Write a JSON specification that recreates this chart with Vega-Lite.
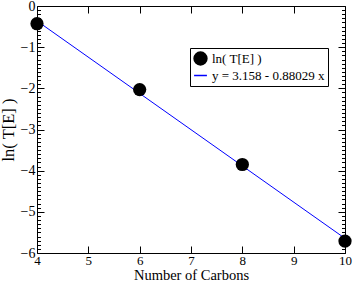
{
  "$schema": "https://vega.github.io/schema/vega-lite/v6.json",
  "width": 308,
  "height": 247,
  "autosize": {"type": "none"},
  "padding": {"left": 37, "top": 6, "right": 9, "bottom": 30},
  "background": "white",
  "config": {
    "view": {"stroke": "black", "strokeWidth": 1},
    "font": "Liberation Serif",
    "axis": {
      "grid": false,
      "domain": false,
      "ticks": true,
      "tickSize": -7,
      "tickColor": "black",
      "tickWidth": 1,
      "tickOpacity": 1,
      "zindex": 1,
      "labelFont": "Liberation Serif",
      "labelFontSize": 14,
      "labelColor": "black",
      "titleFont": "Liberation Serif",
      "titleFontWeight": "normal",
      "titleColor": "black"
    },
    "legend": {
      "title": null,
      "orient": "none",
      "legendX": 153,
      "legendY": 42,
      "fillColor": "white",
      "strokeColor": "black",
      "padding": 3,
      "rowPadding": 0,
      "symbolSize": 165,
      "symbolOpacity": 1,
      "labelFont": "Liberation Serif",
      "labelFontSize": 13,
      "labelColor": "black",
      "labelOffset": 4,
      "labelLimit": 300,
      "zindex": 2
    }
  },
  "datasets": {
    "points": [
      {"carbons": 4, "lnTE": -0.43, "series": "ln( T[E] )"},
      {"carbons": 6, "lnTE": -2.03, "series": "ln( T[E] )"},
      {"carbons": 8, "lnTE": -3.85, "series": "ln( T[E] )"},
      {"carbons": 10, "lnTE": -5.71, "series": "ln( T[E] )"}
    ],
    "fit": [
      {"carbons": 4, "lnTE": -0.36316, "series": "y = 3.158 - 0.88029 x"},
      {"carbons": 10, "lnTE": -5.6449, "series": "y = 3.158 - 0.88029 x"}
    ]
  },
  "resolve": {"axis": {"x": "independent", "y": "independent"}},
  "layer": [
    {
      "data": {"name": "points"},
      "mark": {"type": "point", "opacity": 0},
      "encoding": {
        "x": {"field": "carbons", "type": "quantitative", "scale": {"domain": [4, 10], "nice": false, "zero": false}, "axis": null},
        "y": {
          "field": "lnTE", "type": "quantitative",
          "scale": {"domain": [-6, 0], "nice": false, "zero": false},
          "axis": {
            "orient": "left", "title": null, "labels": false, "tickSize": -3.5,
            "values": [-5.9, -5.8, -5.7, -5.6, -5.5, -5.4, -5.3, -5.2, -5.1, -4.9, -4.8, -4.7, -4.6, -4.5, -4.4, -4.3, -4.2, -4.1, -3.9, -3.8, -3.7, -3.6, -3.5, -3.4, -3.3, -3.2, -3.1, -2.9, -2.8, -2.7, -2.6, -2.5, -2.4, -2.3, -2.2, -2.1, -1.9, -1.8, -1.7, -1.6, -1.5, -1.4, -1.3, -1.2, -1.1, -0.9, -0.8, -0.7, -0.6, -0.5, -0.4, -0.3, -0.2, -0.1]
          }
        }
      }
    },
    {
      "data": {"name": "points"},
      "mark": {"type": "point", "opacity": 0},
      "encoding": {
        "x": {"field": "carbons", "type": "quantitative", "scale": {"domain": [4, 10], "nice": false, "zero": false}, "axis": null},
        "y": {
          "field": "lnTE", "type": "quantitative",
          "scale": {"domain": [-6, 0], "nice": false, "zero": false},
          "axis": {
            "orient": "right", "title": null, "labels": false, "tickSize": -3.5,
            "values": [-5.9, -5.8, -5.7, -5.6, -5.5, -5.4, -5.3, -5.2, -5.1, -4.9, -4.8, -4.7, -4.6, -4.5, -4.4, -4.3, -4.2, -4.1, -3.9, -3.8, -3.7, -3.6, -3.5, -3.4, -3.3, -3.2, -3.1, -2.9, -2.8, -2.7, -2.6, -2.5, -2.4, -2.3, -2.2, -2.1, -1.9, -1.8, -1.7, -1.6, -1.5, -1.4, -1.3, -1.2, -1.1, -0.9, -0.8, -0.7, -0.6, -0.5, -0.4, -0.3, -0.2, -0.1]
          }
        }
      }
    },
    {
      "data": {"name": "fit"},
      "mark": {"type": "line", "color": "#0000ff", "strokeWidth": 1},
      "encoding": {
        "x": {
          "field": "carbons", "type": "quantitative",
          "scale": {"domain": [4, 10], "nice": false, "zero": false},
          "axis": {"orient": "top", "title": null, "labels": false, "values": [4, 5, 6, 7, 8, 9, 10]}
        },
        "y": {
          "field": "lnTE", "type": "quantitative",
          "scale": {"domain": [-6, 0], "nice": false, "zero": false},
          "axis": {"orient": "right", "title": null, "labels": false, "values": [-6, -5, -4, -3, -2, -1, 0]}
        },
        "color": {
          "field": "series", "type": "nominal",
          "scale": {"domain": ["ln( T[E] )", "y = 3.158 - 0.88029 x"], "range": ["#000000", "#0000ff"]}
        }
      }
    },
    {
      "data": {"name": "points"},
      "mark": {"type": "point", "filled": true, "size": 175, "opacity": 1},
      "encoding": {
        "x": {
          "field": "carbons", "type": "quantitative",
          "scale": {"domain": [4, 10], "nice": false, "zero": false},
          "axis": {
            "orient": "bottom", "title": "Number of Carbons",
            "titleFontSize": 14.5, "titlePadding": 1, "labelPadding": 8, "labelFontSize": 13,
            "values": [4, 5, 6, 7, 8, 9, 10],
            "labelFlush": false
          }
        },
        "y": {
          "field": "lnTE", "type": "quantitative",
          "scale": {"domain": [-6, 0], "nice": false, "zero": false},
          "axis": {
            "orient": "left", "title": "ln( T[E] )",
            "titleFontSize": 16.5, "titlePadding": 4, "labelPadding": 9,
            "labelFlush": false,
            "values": [-6, -5, -4, -3, -2, -1, 0]
          }
        },
        "color": {
          "field": "series", "type": "nominal",
          "scale": {"domain": ["ln( T[E] )", "y = 3.158 - 0.88029 x"], "range": ["#000000", "#0000ff"]}
        },
        "shape": {
          "field": "series", "type": "nominal",
          "scale": {"domain": ["ln( T[E] )", "y = 3.158 - 0.88029 x"], "range": ["circle", "stroke"]}
        }
      }
    }
  ]
}
